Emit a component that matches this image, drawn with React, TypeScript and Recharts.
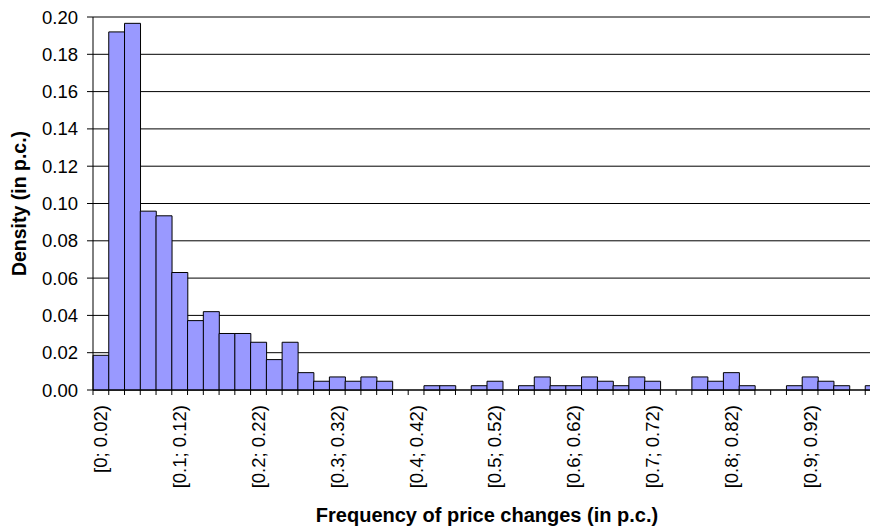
import React from "react";
import { BarChart, Bar, XAxis, YAxis, CartesianGrid } from "recharts";

const binLabels = [
  "[0; 0.02)", "[0.02; 0.04)", "[0.04; 0.06)", "[0.06; 0.08)", "[0.08; 0.1)",
  "[0.1; 0.12)", "[0.12; 0.14)", "[0.14; 0.16)", "[0.16; 0.18)", "[0.18; 0.2)",
  "[0.2; 0.22)", "[0.22; 0.24)", "[0.24; 0.26)", "[0.26; 0.28)", "[0.28; 0.3)",
  "[0.3; 0.32)", "[0.32; 0.34)", "[0.34; 0.36)", "[0.36; 0.38)", "[0.38; 0.4)",
  "[0.4; 0.42)", "[0.42; 0.44)", "[0.44; 0.46)", "[0.46; 0.48)", "[0.48; 0.5)",
  "[0.5; 0.52)", "[0.52; 0.54)", "[0.54; 0.56)", "[0.56; 0.58)", "[0.58; 0.6)",
  "[0.6; 0.62)", "[0.62; 0.64)", "[0.64; 0.66)", "[0.66; 0.68)", "[0.68; 0.7)",
  "[0.7; 0.72)", "[0.72; 0.74)", "[0.74; 0.76)", "[0.76; 0.78)", "[0.78; 0.8)",
  "[0.8; 0.82)", "[0.82; 0.84)", "[0.84; 0.86)", "[0.86; 0.88)", "[0.88; 0.9)",
  "[0.9; 0.92)", "[0.92; 0.94)", "[0.94; 0.96)", "[0.96; 0.98)", "[0.98; 1]",
];

const density = [
  0.0186, 0.192, 0.1966, 0.0959, 0.0934, 0.063, 0.0372, 0.042, 0.0303, 0.0303,
  0.0256, 0.0163, 0.0256, 0.0093, 0.0047, 0.007, 0.0047, 0.007, 0.0047, 0,
  0, 0.0023, 0.0023, 0, 0.0023, 0.0047, 0, 0.0023, 0.007, 0.0023,
  0.0023, 0.007, 0.0047, 0.0023, 0.007, 0.0047, 0, 0, 0.007, 0.0047,
  0.0093, 0.0023, 0, 0, 0.0023, 0.007, 0.0047, 0.0023, 0, 0.0023,
];

const shownTickLabels = [
  "[0; 0.02)", "[0.1; 0.12)", "[0.2; 0.22)", "[0.3; 0.32)", "[0.4; 0.42)",
  "[0.5; 0.52)", "[0.6; 0.62)", "[0.7; 0.72)", "[0.8; 0.82)", "[0.9; 0.92)",
];

const yTicks = [0, 0.02, 0.04, 0.06, 0.08, 0.1, 0.12, 0.14, 0.16, 0.18, 0.2];

const xTitle = "Frequency of price changes (in p.c.)";
const yTitle = "Density (in p.c.)";

const data = binLabels.map((label, i) => ({ label, density: density[i] }));

const FONT = "'Liberation Sans', Arial, sans-serif";

const XTick = (props: any) => {
  const { x, y, payload, index, visibleTicksCount } = props;
  const off = payload && typeof payload.offset === "number" ? payload.offset : 0;
  const left = x - off;
  const showLabel = shownTickLabels.includes(payload.value);
  return (
    <g>
      <line x1={left} y1={y} x2={left} y2={y + 5} stroke="#000" strokeWidth={1} />
      {index === visibleTicksCount - 1 && (
        <line x1={x + off} y1={y} x2={x + off} y2={y + 5} stroke="#000" strokeWidth={1} />
      )}
      {showLabel && (
        <text
          x={x}
          y={y + 15}
          dy="0.35em"
          transform={`rotate(-90, ${x}, ${y + 15})`}
          textAnchor="end"
          fontFamily={FONT}
          fontSize={18.5}
          fill="#000"
        >
          {payload.value}
        </text>
      )}
    </g>
  );
};

export default function App() {
  return (
    <div
      style={{
        position: "absolute",
        left: 0,
        top: 0,
        width: 870,
        height: 529,
        overflow: "hidden",
        background: "#fff",
      }}
    >
      <BarChart
        width={881}
        height={529}
        data={data}
        margin={{ top: 17, right: 0, bottom: 0, left: 0 }}
        barCategoryGap={0}
        barGap={0}
      >
        <CartesianGrid vertical={false} stroke="#000" strokeWidth={1} />
        <XAxis
          dataKey="label"
          interval={0}
          height={139}
          tickSize={0}
          tickMargin={0}
          tickLine={false}
          axisLine={{ stroke: "#000", strokeWidth: 1 }}
          tick={<XTick />}
          label={{
            content: (p: any) => {
              const vb = p.viewBox;
              return (
                <text
                  x={vb.x + vb.width / 2}
                  y={vb.y + 125}
                  dy="0.35em"
                  textAnchor="middle"
                  fontFamily={FONT}
                  fontWeight="bold"
                  fontSize={20}
                  fill="#000"
                >
                  {xTitle}
                </text>
              );
            },
          }}
        />
        <YAxis
          width={93}
          domain={[0, 0.2]}
          ticks={yTicks}
          interval={0}
          tickSize={6}
          tickMargin={9}
          tickFormatter={(v: number) => v.toFixed(2)}
          tick={{ fontFamily: FONT, fontSize: 18.5, fill: "#000" }}
          tickLine={{ stroke: "#000" }}
          axisLine={{ stroke: "#000", strokeWidth: 1 }}
          label={{
            content: (p: any) => {
              const vb = p.viewBox;
              const cx = 19;
              const cy = vb.y + vb.height / 2;
              return (
                <text
                  x={cx}
                  y={cy}
                  dy="0.35em"
                  transform={`rotate(-90, ${cx}, ${cy})`}
                  textAnchor="middle"
                  fontFamily={FONT}
                  fontWeight="bold"
                  fontSize={19.5}
                  fill="#000"
                >
                  {yTitle}
                </text>
              );
            },
          }}
        />
        <Bar
          dataKey="density"
          fill="#9999FF"
          stroke="#000"
          strokeWidth={1}
          isAnimationActive={false}
        />
      </BarChart>
    </div>
  );
}
